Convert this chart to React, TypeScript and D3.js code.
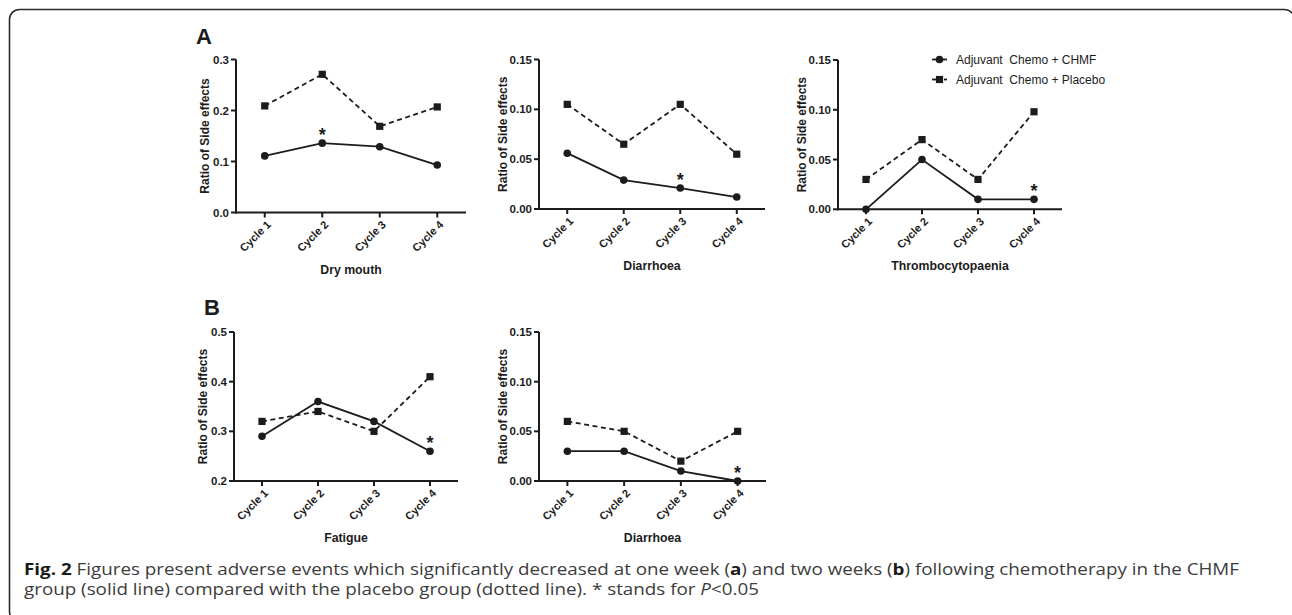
import React, { useLayoutEffect, useRef, useState } from "react";
import * as d3 from "d3";

// ---------- data ----------
const cycles = ["Cycle 1", "Cycle 2", "Cycle 3", "Cycle 4"];

const dryMouthChmf = [0.111, 0.136, 0.129, 0.093];
const dryMouthPlacebo = [0.209, 0.271, 0.169, 0.207];

const diarrhoeaAChmf = [0.056, 0.029, 0.021, 0.012];
const diarrhoeaAPlacebo = [0.105, 0.065, 0.105, 0.055];

const thrombChmf = [0.0, 0.05, 0.01, 0.01];
const thrombPlacebo = [0.03, 0.07, 0.03, 0.098];

const fatigueChmf = [0.29, 0.36, 0.32, 0.26];
const fatiguePlacebo = [0.32, 0.34, 0.3, 0.41];

const diarrhoeaBChmf = [0.03, 0.03, 0.01, 0.0];
const diarrhoeaBPlacebo = [0.06, 0.05, 0.02, 0.05];

const ticksDryMouth = [0, 0.1, 0.2, 0.3];
const ticks015 = [0, 0.05, 0.1, 0.15];
const ticksFatigue = [0.2, 0.3, 0.4, 0.5];

const legendLabels = ["Adjuvant  Chemo + CHMF", "Adjuvant  Chemo + Placebo"];
const yAxisTitle = "Ratio of Side effects";

// ---------- layout ----------
const FONT = "'Liberation Sans', Arial, Helvetica, sans-serif";
const INK = "#1c1c1c";

type PanelCfg = {
  left: number; right: number; top: number; bottom: number;
  domain: [number, number]; ticks: number[]; digits: number;
  chmf: number[]; placebo: number[]; title: string; star: number;
};

const panels: PanelCfg[] = [
  { left: 236, right: 466, top: 59.5, bottom: 212.5, domain: [0, 0.3], ticks: ticksDryMouth, digits: 1,
    chmf: dryMouthChmf, placebo: dryMouthPlacebo, title: "Dry mouth", star: 1 },
  { left: 539, right: 765, top: 59.5, bottom: 209, domain: [0, 0.15], ticks: ticks015, digits: 2,
    chmf: diarrhoeaAChmf, placebo: diarrhoeaAPlacebo, title: "Diarrhoea", star: 2 },
  { left: 838, right: 1062, top: 60, bottom: 209.3, domain: [0, 0.15], ticks: ticks015, digits: 2,
    chmf: thrombChmf, placebo: thrombPlacebo, title: "Thrombocytopaenia", star: 3 },
  { left: 234, right: 458, top: 332, bottom: 481, domain: [0.2, 0.5], ticks: ticksFatigue, digits: 1,
    chmf: fatigueChmf, placebo: fatiguePlacebo, title: "Fatigue", star: 3 },
  { left: 539, right: 766, top: 332, bottom: 481, domain: [0, 0.15], ticks: ticks015, digits: 2,
    chmf: diarrhoeaBChmf, placebo: diarrhoeaBPlacebo, title: "Diarrhoea", star: 3 },
];

function Marker({ kind, x, y }: { kind: "circle" | "square"; x: number; y: number }) {
  if (kind === "circle") return <circle cx={x} cy={y} r={3.8} fill={INK} />;
  return <rect x={x - 3.6} y={y - 3.6} width={7.2} height={7.2} fill={INK} />;
}

function Panel({ cfg }: { cfg: PanelCfg }) {
  const x = d3.scaleBand<string>().domain(cycles).range([cfg.left, cfg.right]);
  const cx = (i: number) => (x(cycles[i]) as number) + x.bandwidth() / 2;
  const y = d3.scaleLinear().domain(cfg.domain).range([cfg.bottom, cfg.top]);
  const fmt = d3.format(`.${cfg.digits}f`);
  const line = d3.line<number>().x((_, i) => cx(i)).y((d) => y(d));
  const titleOffset = cfg.digits === 1 ? 31 : 36;
  const midY = (cfg.top + cfg.bottom) / 2;
  const midX = (cfg.left + cfg.right) / 2;
  return (
    <g>
      {/* series */}
      <path d={line(cfg.placebo) || ""} fill="none" stroke={INK} strokeWidth={1.8} strokeDasharray="5,3.5" />
      <path d={line(cfg.chmf) || ""} fill="none" stroke={INK} strokeWidth={1.8} />
      {cfg.placebo.map((v, i) => <Marker key={"p" + i} kind="square" x={cx(i)} y={y(v)} />)}
      {cfg.chmf.map((v, i) => <Marker key={"c" + i} kind="circle" x={cx(i)} y={y(v)} />)}
      {/* axes */}
      <line x1={cfg.left} x2={cfg.left} y1={cfg.top} y2={cfg.bottom + 1} stroke={INK} strokeWidth={2} />
      <line x1={cfg.left - 1} x2={cfg.right} y1={cfg.bottom} y2={cfg.bottom} stroke={INK} strokeWidth={2} />
      {cfg.ticks.map((t) => (
        <g key={"yt" + t}>
          <line x1={cfg.left - 5} x2={cfg.left} y1={y(t)} y2={y(t)} stroke={INK} strokeWidth={2} />
          <text x={cfg.left - 7} y={y(t)} dy="0.36em" textAnchor="end" fontFamily={FONT}
            fontWeight="bold" fontSize={11.5} fill={INK}>{fmt(t)}</text>
        </g>
      ))}
      {cycles.map((c, i) => (
        <g key={"xt" + c}>
          <line x1={cx(i)} x2={cx(i)} y1={cfg.bottom} y2={cfg.bottom + 5} stroke={INK} strokeWidth={2} />
          <text transform={`translate(${cx(i) + 4},${cfg.bottom + 10}) rotate(-45)`} dy="0.36em"
            textAnchor="end" fontFamily={FONT} fontWeight="bold" fontSize={11} fill={INK}>{c}</text>
        </g>
      ))}
      <text transform={`translate(${cfg.left - titleOffset},${midY}) rotate(-90)`} textAnchor="middle"
        dy="0.36em" fontFamily={FONT} fontWeight="bold" fontSize={12} fill={INK}>{yAxisTitle}</text>
      <text x={midX} y={cfg.bottom + 61} textAnchor="middle" fontFamily={FONT} fontWeight="bold"
        fontSize={12.3} fill={INK}>{cfg.title}</text>
      <text x={cx(cfg.star)} y={y(cfg.chmf[cfg.star]) - 13 + 10.5} textAnchor="middle" fontFamily={FONT}
        fontWeight="bold" fontSize={18} fill={INK}>*</text>
    </g>
  );
}

function Legend({ x, y }: { x: number; y: number }) {
  const rows = [0, 1];
  return (
    <g>
      {rows.map((r) => {
        const yy = y + r * 20;
        return (
          <g key={r}>
            {r === 0 ? (
              <line x1={x} x2={x + 15} y1={yy} y2={yy} stroke={INK} strokeWidth={1.8} />
            ) : (
              <g>
                <line x1={x} x2={x + 4} y1={yy} y2={yy} stroke={INK} strokeWidth={1.8} />
                <line x1={x + 12} x2={x + 15} y1={yy} y2={yy} stroke={INK} strokeWidth={1.8} />
              </g>
            )}
            <Marker kind={r === 0 ? "circle" : "square"} x={x + 7.5} y={yy} />
            <text x={x + 24} y={yy} dy="0.36em" fontFamily={FONT} fontSize={12} fill={INK}
              style={{ whiteSpace: "pre" }}>{legendLabels[r]}</text>
          </g>
        );
      })}
    </g>
  );
}

const CAP_FONT = "'Open Sans', 'Noto Sans', sans-serif";

function Caption() {
  const l1 = useRef<SVGTextElement>(null);
  const l2 = useRef<SVGTextElement>(null);
  const [len2, setLen2] = useState<number | null>(null);
  const target1 = 1215;
  useLayoutEffect(() => {
    if (l1.current && l2.current) {
      const n1 = l1.current.getComputedTextLength();
      const n2 = l2.current.getComputedTextLength();
      setLen2((n2 * target1) / n1);
    }
  }, []);
  const common = { fontFamily: CAP_FONT, fontSize: 15.5, fill: "#3c3c3c" };
  const extra1 = len2 !== null ? { textLength: target1, lengthAdjust: "spacingAndGlyphs" as const } : {};
  const extra2 = len2 !== null ? { textLength: len2, lengthAdjust: "spacingAndGlyphs" as const } : {};
  return (
    <g>
      <text ref={l1} x={24} y={575} {...common} {...extra1}>
        <tspan fontWeight="bold" fill="#1a1a1a">Fig. 2</tspan>
        {" Figures present adverse events which significantly decreased at one week ("}
        <tspan fontWeight="bold" fill="#1a1a1a">a</tspan>
        {") and two weeks ("}
        <tspan fontWeight="bold" fill="#1a1a1a">b</tspan>
        {") following chemotherapy in the CHMF"}
      </text>
      <text ref={l2} x={24} y={595} {...common} {...extra2}>
        {"group (solid line) compared with the placebo group (dotted line). * stands for "}
        <tspan fontStyle="italic">P</tspan>
        {"<0.05"}
      </text>
    </g>
  );
}

export default function App() {
  return (
    <svg width={1292} height={615} viewBox="0 0 1292 615"
      style={{ position: "absolute", left: 0, top: 0, background: "#ffffff" }}>
      <rect x={0} y={0} width={1292} height={615} fill="#ffffff" />
      <rect x={9.5} y={9.5} width={1285} height={612} rx={10} ry={10} fill="none" stroke="#2a2a2a" strokeWidth={1.6} />
      <text x={196} y={44} fontFamily={FONT} fontWeight="bold" fontSize={22} fill={INK}>A</text>
      <text x={204} y={315} fontFamily={FONT} fontWeight="bold" fontSize={22} fill={INK}>B</text>
      {panels.map((p, i) => <Panel key={i} cfg={p} />)}
      <Legend x={932} y={59.5} />
      <Caption />
    </svg>
  );
}
